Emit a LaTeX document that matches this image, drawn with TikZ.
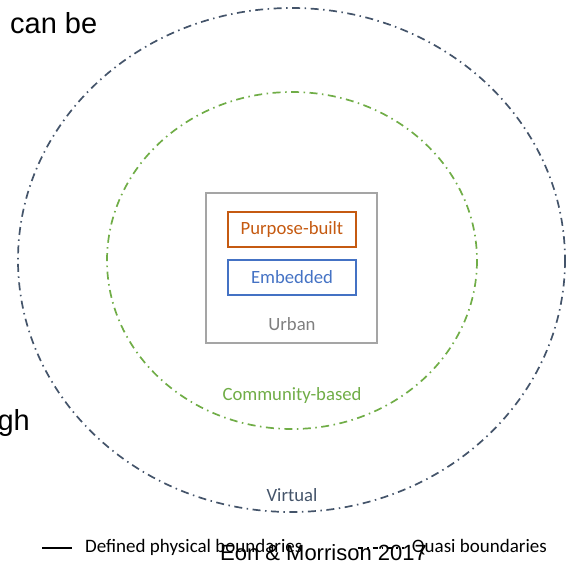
\documentclass[tikz,border=0pt]{standalone}
\usepackage{fontspec}
\setmainfont{Carlito}
\newfontfamily\arialfont{Liberation Sans}
\usetikzlibrary{positioning, calc}
\definecolor{virtualblue}{HTML}{44546A}
\definecolor{communitygreen}{HTML}{70AD47}
\definecolor{urbangray}{HTML}{7F7F7F}
\definecolor{urbanframe}{HTML}{A5A5A5}
\definecolor{builtorange}{HTML}{C55A11}
\definecolor{embedblue}{HTML}{4472C4}
\tikzset{
   myquasi/.style={line width=1.7pt, dash pattern=on 8pt off 4.5pt on 1.5pt off 4.5pt},
   mybox/.style={draw, line width=1.7pt, minimum width=128pt, minimum height=35pt, inner sep=0pt},
   mylabel/.style={font=\fontsize{18.7}{22}\selectfont, inner sep=0pt},
   mylegend/.style={font=\fontsize{19}{22}\selectfont, inner sep=0pt},
   myslide/.style={font=\arialfont\fontsize{29}{33}\selectfont, inner sep=0pt}
}
\begin{document}
\begin{tikzpicture}[x=1pt, y=-1pt]
   \useasboundingbox (0,0) rectangle (573,566);
   % boundaries
   \draw[myquasi, virtualblue] (291.5,260) ellipse [x radius=273.5, y radius=252];
   \draw[myquasi, communitygreen] (292,260.5) ellipse [x radius=185, y radius=168.5];
   \node[draw=urbanframe, line width=2.2pt, minimum width=171pt, minimum height=150pt] (urban) at (291.5,268) {};
   \node[mybox, draw=builtorange, text=builtorange, mylabel] (built) at (292,229.5) {Purpose-built};
   \node[mybox, draw=embedblue, text=embedblue, mylabel] (embedded) at (292,277.5) {Embedded};
   \node[mylabel, text=urbangray] (urbantxt) at (292,324) {Urban};
   \node[mylabel, text=communitygreen] (community) at (292,396) {Community-based};
   \node[mylabel, text=virtualblue] (virtual) at (292,495) {Virtual};
   % legend
   \coordinate (solidA) at (42,548);
   \coordinate (solidB) at (72,548);
   \draw[line width=1.4pt] (solidA) -- (solidB);
   \node[mylegend, anchor=base west] (defined) at (85,552) {Defined physical boundaries};
   \coordinate (quasiA) at (358,548);
   \coordinate (quasiB) at (404,548);
   \draw[line width=1.4pt, dash pattern=on 5pt off 4pt on 1.5pt off 4pt] (quasiA) -- (quasiB);
   \node[mylegend, anchor=base east] (quasi) at (547,552) {Quasi boundaries};
   % slide text
   \node[myslide, anchor=base west] (canbe) at (10,33) {can be};
   \node[myslide, anchor=base east] (gh) at (30,430) {gh};
   \node[font=\arialfont\fontsize{22}{26}\selectfont, inner sep=0pt, anchor=base] (source) at (323.5,560) {Eon \& Morrison 2017};
\end{tikzpicture}
\end{document}
